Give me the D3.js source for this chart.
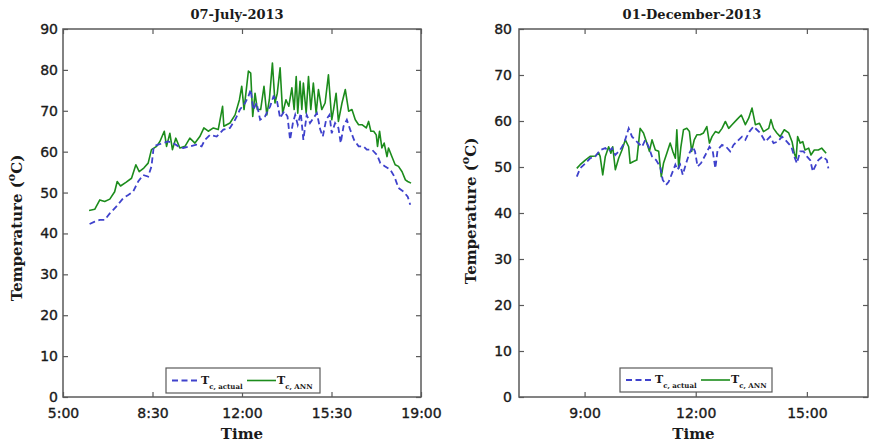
<!DOCTYPE html>
<html><head><meta charset="utf-8">
<script src="https://cdn.jsdelivr.net/npm/d3@7"></script>
<style>body{margin:0;background:#fff}svg{display:block}</style>
</head><body>
<svg id="c" width="869" height="444"></svg>
<script>
// ---------- data ----------
const julyTitle = "07-July-2013";
const decTitle = "01-December-2013";
const julyXTicks = ["5:00","8:30","12:00","15:30","19:00"];
const decXTicks = ["9:00","12:00","15:00"];
const julyYTicks = [0,10,20,30,40,50,60,70,80,90];
const decYTicks = [0,10,20,30,40,50,60,70,80];

// July, ANN (hours, °C)
const julyANNTime = [6.02,6.24,6.44,6.63,6.83,7.02,7.12,7.25,7.46,7.68,7.85,7.98,8.16,8.33,8.46,8.66,8.79,8.96,9.05,9.18,9.28,9.41,9.57,9.77,9.96,10.16,10.35,10.51,10.68,10.88,11.07,11.24,11.29,11.53,11.73,11.90,11.99,12.08,12.25,12.34,12.42,12.51,12.60,12.73,12.86,12.97,13.07,13.19,13.29,13.38,13.49,13.59,13.72,13.83,13.95,14.04,14.12,14.18,14.27,14.34,14.40,14.51,14.60,14.69,14.79,14.90,14.99,15.12,15.25,15.38,15.51,15.58,15.68,15.77,15.91,16.04,16.17,16.30,16.43,16.56,16.69,16.86,16.95,17.04,17.15,17.25,17.30,17.38,17.47,17.56,17.67,17.73,17.86,17.99,18.12,18.26,18.39,18.48,18.61];
const julyANNValues = [45.6,45.9,48.2,47.8,48.4,50.2,52.7,51.6,52.5,53.5,56.8,55.1,56.0,57.2,60.5,61.3,62.5,65.0,61.3,64.5,60.5,63.3,60.9,61.3,63.3,62.1,63.7,65.8,65.0,65.8,65.4,71.1,66.2,67.0,69.0,72.7,76.0,70.3,79.7,79.2,68.6,74.3,70.3,70.3,76.0,69.0,72.7,81.7,71.9,74.3,80.5,69.4,72.7,71.1,75.6,70.3,78.4,69.4,77.2,70.3,76.8,69.4,78.4,70.3,76.8,69.4,75.2,70.3,71.9,78.8,67.8,70.3,74.3,67.4,71.9,75.2,69.9,70.3,67.8,66.6,66.6,65.8,67.4,65.0,65.0,64.1,61.3,65.0,60.9,62.1,58.8,60.9,58.8,56.8,56.4,55.1,53.1,52.7,52.3];

// July, actual
const julyActualTime = [6.04,6.24,6.44,6.63,6.83,7.09,7.35,7.55,7.74,7.94,8.13,8.33,8.46,8.55,8.72,8.92,9.11,9.31,9.51,9.70,9.96,10.22,10.42,10.55,10.75,11.01,11.27,11.53,11.73,11.92,12.12,12.25,12.34,12.44,12.57,12.71,12.90,13.10,13.23,13.36,13.49,13.65,13.78,13.88,13.99,14.08,14.18,14.30,14.40,14.53,14.66,14.79,14.93,15.06,15.16,15.29,15.42,15.51,15.64,15.77,15.86,15.97,16.10,16.23,16.38,16.56,16.75,16.88,17.08,17.28,17.41,17.60,17.80,17.96,18.12,18.32,18.48,18.58];
const julyActualValues = [42.3,42.9,43.3,43.3,44.9,46.6,48.6,49.4,50.2,52.7,54.3,53.9,56.4,61.3,61.7,62.1,62.5,62.1,61.3,60.9,61.3,61.7,61.3,62.9,64.1,63.7,65.4,65.8,67.8,70.3,71.9,73.5,75.2,70.3,71.9,67.8,68.6,71.1,73.5,72.7,68.2,69.9,68.6,62.9,67.0,69.0,66.6,69.4,62.9,69.0,67.0,68.2,69.4,65.4,63.7,67.8,69.0,64.5,67.0,65.8,62.1,66.2,67.8,65.4,62.9,61.3,61.3,60.5,60.5,59.2,57.2,56.4,55.6,53.9,51.1,50.2,49.0,47.0];

// December, ANN
const decANNTime = [8.79,8.88,9.02,9.15,9.29,9.38,9.42,9.49,9.56,9.65,9.71,9.76,9.83,9.92,10.01,10.10,10.19,10.23,10.32,10.41,10.50,10.59,10.68,10.75,10.82,10.91,11.00,11.07,11.13,11.22,11.31,11.38,11.45,11.49,11.54,11.60,11.67,11.76,11.83,11.89,11.96,12.03,12.12,12.21,12.30,12.37,12.44,12.53,12.62,12.71,12.80,12.89,12.98,13.11,13.23,13.34,13.43,13.52,13.61,13.72,13.83,13.97,14.03,14.10,14.19,14.28,14.39,14.51,14.60,14.66,14.71,14.75,14.82,14.89,14.95,15.05,15.11,15.20,15.31,15.40,15.52];
const decANNValues = [49.7,50.5,51.5,52.3,52.4,53.1,52.3,48.3,52.3,54.4,53.0,54.4,49.4,51.9,53.7,55.9,54.4,50.8,51.2,51.5,58.4,57.4,55.2,53.4,55.9,53.7,53.4,47.9,50.8,53.0,55.2,53.4,51.9,58.1,49.7,54.4,58.1,58.4,57.7,53.4,55.9,57.0,57.0,57.4,58.8,55.2,56.6,57.7,57.4,58.4,59.9,58.4,59.2,60.3,61.3,59.2,60.6,62.8,59.2,59.5,57.7,58.4,60.3,58.4,57.4,56.6,58.1,57.4,55.5,53.0,51.9,56.6,55.2,55.5,53.7,54.1,52.6,53.7,53.7,54.1,53.0];

// December, actual
const decActualTime = [8.79,8.88,9.02,9.15,9.29,9.42,9.56,9.65,9.74,9.83,9.96,10.07,10.19,10.28,10.41,10.55,10.64,10.73,10.82,10.93,11.04,11.11,11.20,11.27,11.36,11.45,11.51,11.58,11.65,11.74,11.83,11.92,11.98,12.05,12.14,12.26,12.37,12.46,12.53,12.59,12.71,12.82,12.93,13.02,13.16,13.25,13.34,13.45,13.56,13.65,13.74,13.88,14.01,14.10,14.21,14.33,14.46,14.58,14.66,14.73,14.82,14.91,15.00,15.09,15.16,15.22,15.31,15.43,15.54,15.58];
const decActualValues = [47.9,49.7,50.8,51.9,52.3,53.7,54.1,53.4,54.1,52.6,53.7,55.2,58.4,56.6,55.5,54.4,55.9,54.4,52.3,51.5,50.1,47.2,46.1,46.8,48.6,50.5,49.4,50.5,48.3,50.8,53.0,54.4,53.4,50.1,50.8,52.6,54.4,53.4,49.7,53.7,54.8,54.4,53.4,54.8,55.9,56.6,55.9,57.7,58.8,58.1,57.4,55.5,56.6,55.2,55.5,56.6,55.5,54.4,52.3,50.8,53.4,53.4,52.3,51.5,49.0,50.1,51.5,52.3,51.5,49.7];

// ---------- drawing ----------
const svg = d3.select("#c");
const parseT = s => { const [h,m] = s.split(":").map(Number); return h + m/60; };
const BLUE = "#3f42cc", GREEN = "#1c8c1c", AXIS = "#5a5a5a", TXT = "#1a1a1a";

function panel(cfg) {
  const x = d3.scaleLinear().domain(cfg.xDomain).range([cfg.left, cfg.right]);
  const y = d3.scaleLinear().domain(cfg.yDomain).range([cfg.bottom, cfg.top]);
  const g = svg.append("g");
  const xt = cfg.xTicks.map(parseT);
  const fmt = d => cfg.xTicks[xt.findIndex(v => Math.abs(v - d) < 1e-6)];

  const styleAxis = sel => {
    sel.select(".domain").remove();
    sel.selectAll(".tick line").attr("stroke", AXIS).attr("stroke-width", 1.2);
    sel.selectAll(".tick text").attr("fill", TXT).attr("font-family", "DejaVu Sans")
      .attr("font-size", 14).attr("stroke", TXT).attr("stroke-width", 0.35);
  };
  g.append("g").attr("transform", `translate(${cfg.left},0)`)
    .call(d3.axisLeft(y).tickValues(cfg.yTicks).tickSizeInner(-5).tickSizeOuter(0).tickPadding(cfg.yPad))
    .call(styleAxis);
  g.append("g").attr("transform", `translate(${cfg.right},0)`)
    .call(d3.axisRight(y).tickValues(cfg.yTicks).tickSizeInner(-5).tickSizeOuter(0).tickFormat(""))
    .call(styleAxis);
  g.append("g").attr("transform", `translate(0,${cfg.bottom})`)
    .call(d3.axisBottom(x).tickValues(xt).tickFormat(fmt).tickSizeInner(-5).tickSizeOuter(0).tickPadding(11))
    .call(styleAxis);
  g.append("g").attr("transform", `translate(0,${cfg.top})`)
    .call(d3.axisTop(x).tickValues(xt).tickFormat("").tickSizeInner(-5).tickSizeOuter(0))
    .call(styleAxis);

  g.append("rect").attr("x", cfg.left).attr("y", cfg.top)
    .attr("width", cfg.right - cfg.left).attr("height", cfg.bottom - cfg.top)
    .attr("fill", "none").attr("stroke", AXIS).attr("stroke-width", 1.5);

  const line = d3.line().x(d => x(d[0])).y(d => y(d[1]));
  const act = cfg.actT.map((t, i) => [t, cfg.actV[i]]);
  const ann = cfg.annT.map((t, i) => [t, cfg.annV[i]]);
  g.append("path").datum(ann).attr("d", line).attr("fill", "none")
    .attr("stroke", GREEN).attr("stroke-width", 1.6).attr("stroke-linejoin", "round");
  g.append("path").datum(act).attr("d", line).attr("fill", "none")
    .attr("stroke", BLUE).attr("stroke-width", 1.8).attr("stroke-dasharray", "6,3.5");

  // title
  g.append("text").attr("x", cfg.titleX).attr("y", 19).attr("text-anchor", "middle")
    .attr("font-family", "DejaVu Serif").attr("font-weight", "bold").attr("font-size", 13)
    .attr("fill", TXT).text(cfg.title);
  // x label
  g.append("text").attr("x", (cfg.left + cfg.right) / 2).attr("y", 439).attr("text-anchor", "middle")
    .attr("font-family", "DejaVu Serif").attr("font-weight", "bold").attr("font-size", 15)
    .attr("fill", TXT).text("Time");
  // y label
  const yl = g.append("text").attr("transform", `translate(${cfg.yLabX},${cfg.yLabY}) rotate(-90)`)
    .attr("text-anchor", "middle").attr("font-family", "DejaVu Serif").attr("font-weight", "bold")
    .attr("font-size", 15).attr("fill", TXT);
  yl.append("tspan").text("Temperature (");
  yl.append("tspan").attr("dy", -7).attr("font-size", 11).text("o");
  yl.append("tspan").attr("dy", 7).text("C)");

  // legend
  const L = cfg.legend;
  const lg = g.append("g").attr("transform", `translate(${L.x},${L.y})`);
  lg.append("rect").attr("width", L.w).attr("height", L.h).attr("fill", "#fff")
    .attr("stroke", AXIS).attr("stroke-width", 1.2);
  const cy = L.h / 2;
  lg.append("line").attr("x1", 6).attr("x2", 34).attr("y1", cy).attr("y2", cy)
    .attr("stroke", BLUE).attr("stroke-width", 1.8).attr("stroke-dasharray", "6,3.5");
  lg.append("line").attr("x1", 81).attr("x2", 110).attr("y1", cy).attr("y2", cy)
    .attr("stroke", GREEN).attr("stroke-width", 1.6);
  const lab = (xx, sub) => {
    const t = lg.append("text").attr("x", xx).attr("y", cy + 3).attr("font-family", "DejaVu Serif")
      .attr("font-weight", "bold").attr("fill", TXT).attr("font-size", 11);
    t.append("tspan").text("T");
    t.append("tspan").attr("dy", 5).attr("font-size", 7).text(sub);
  };
  lab(35, "c, actual");
  lab(111, "c, ANN");
}

panel({
  left: 63, right: 421, top: 29, bottom: 397,
  xDomain: [5, 19], yDomain: [0, 90], xTicks: julyXTicks, yTicks: julyYTicks, yPad: 5,
  actT: julyActualTime, actV: julyActualValues, annT: julyANNTime, annV: julyANNValues,
  title: julyTitle, titleX: 237, yLabX: 22, yLabY: 228,
  legend: {x: 166, y: 368, w: 154, h: 25}
});
panel({
  left: 519, right: 868, top: 29, bottom: 397,
  xDomain: [7.23, 16.65], yDomain: [0, 80], xTicks: decXTicks, yTicks: decYTicks, yPad: 7,
  actT: decActualTime, actV: decActualValues, annT: decANNTime, annV: decANNValues,
  title: decTitle, titleX: 692, yLabX: 476, yLabY: 211,
  legend: {x: 620, y: 368, w: 152, h: 24}
});
</script>
</body></html>
